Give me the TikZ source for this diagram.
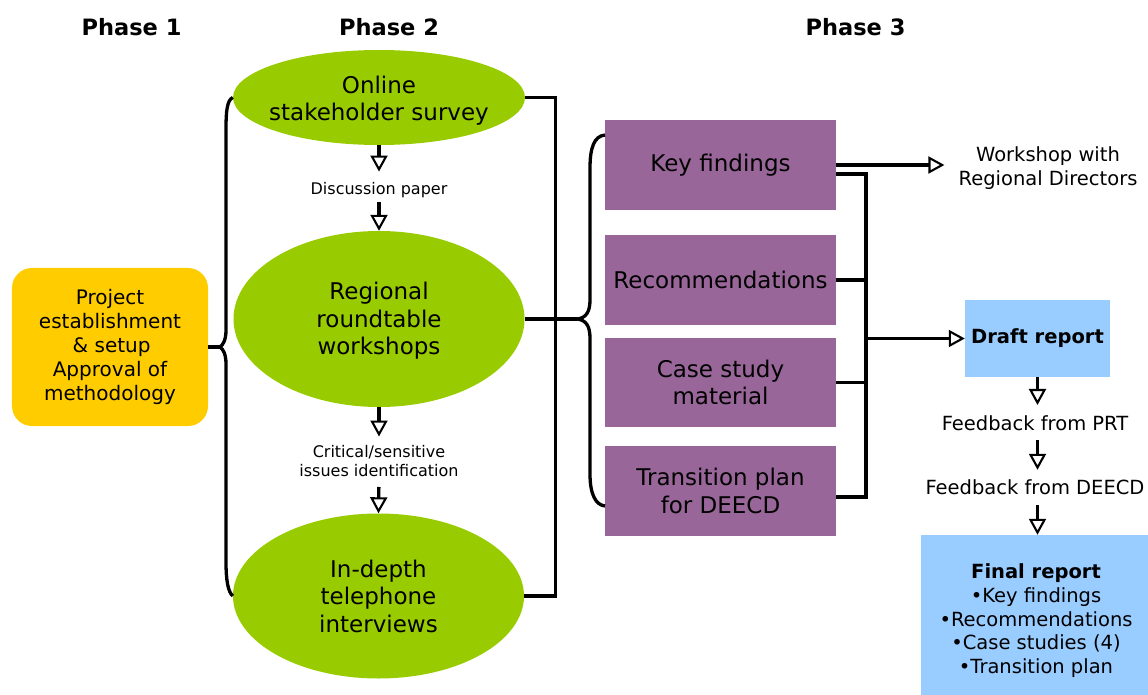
\documentclass[tikz,border=0pt]{standalone}
\usepackage{fontspec}
\setmainfont{DejaVu Sans}
\usetikzlibrary{arrows.meta,shapes.geometric}
\definecolor{leaf}{HTML}{99CC00}
\definecolor{amber}{HTML}{FFCC00}
\definecolor{plum}{HTML}{996699}
\definecolor{sky}{HTML}{99CCFF}

\begin{document}
\begin{tikzpicture}[x=1bp,y=-1bp,
  wire/.style={line width=3.3bp, black},
  flow/.style={wire, -{Triangle[open,length=16bp,width=17bp,line width=2.1bp]}},
  heading/.style={font=\bfseries\fontsize{22.5bp}{26bp}\selectfont, inner sep=0pt, anchor=base},
  bigtext/.style={font=\fontsize{23bp}{27.5bp}\selectfont, align=center, inner sep=0pt},
  midtext/.style={font=\fontsize{19.5bp}{23.8bp}\selectfont, align=center, inner sep=0pt},
  smalltext/.style={font=\fontsize{16bp}{19bp}\selectfont, align=center, inner sep=0pt},
  blob/.style={ellipse, fill=leaf, draw=none, inner sep=0pt},
  output/.style={rectangle, fill=plum, draw=none, inner sep=0pt, align=center,
    minimum width=231bp, minimum height=90bp, font=\fontsize{23bp}{27.5bp}\selectfont},
  report/.style={rectangle, fill=sky, draw=none, inner sep=0pt, align=center}
]
\useasboundingbox (0,0) rectangle (1148,695);

% phase headings
\node[heading] (ph1) at (131.5,36) {Phase 1};
\node[heading] (ph2) at (389,36) {Phase 2};
\node[heading] (ph3) at (855.5,36) {Phase 3};

% phase 1
\node[rectangle, rounded corners=20bp, fill=amber, inner sep=0pt, align=center,
  minimum width=196bp, minimum height=158bp,
  font=\fontsize{20bp}{24bp}\selectfont] (setup) at (110,347)
  {Project\\establishment\\\,\& setup\\Approval of\\methodology};

% phase 2
\node[blob, minimum width=292bp, minimum height=95bp] (survey) at (379,97.5) {};
\node[bigtext] (survey-t) at (379,100.5) {Online\\stakeholder survey};
\node[blob, minimum width=291bp, minimum height=176bp] (roundtable) at (379,319) {};
\node[bigtext] (roundtable-t) at (379,321) {Regional\\roundtable\\workshops};
\node[blob, minimum width=291bp, minimum height=165bp] (interviews) at (378.5,596) {};
\node[bigtext] (interviews-t) at (378.5,596) {In-depth\\telephone\\interviews};

\node[smalltext, anchor=base] (paper) at (379,194.3) {Discussion paper};
\node[smalltext] (issues) at (379,461.4) {Critical/sensitive\\issues identification};

% phase 3
\node[output] (kf) at (720.5,165) {\raisebox{-2bp}{Key findings}};
\node[output] (rec) at (720.5,280) {Recommendations};
\node[output, minimum height=89bp] (case) at (720.5,382.5) {Case study\\material};
\node[output] (trans) at (720.5,491) {Transition plan\\for DEECD};

\node[midtext] (rd) at (1048,167.9) {Workshop with\\Regional Directors};
\node[report, minimum width=145bp, minimum height=77bp,
  font=\bfseries\fontsize{19.5bp}{23.8bp}\selectfont] (draft) at (1037.5,338.5) {\raisebox{-2bp}{Draft report}};
\node[midtext, anchor=base] (prt) at (1035,430) {Feedback from PRT};
\node[midtext, anchor=base] (deecd) at (1035,494.3) {Feedback from DEECD};
\node[report, minimum width=227bp, minimum height=160bp] (final) at (1034.5,615) {};
\node[midtext] (final-t) at (1036,620.7)
  {\textbf{Final report}\\•Key findings\\•Recommendations\\•Case studies (4)\\•Transition plan};

% brace gathering phase 2 into phase 1
\coordinate (lbtip) at (220,347);
\draw[wire] (setup.east) -- (lbtip);
\draw[wire] (survey.west) .. controls (227,100) and (226,112) .. (226,128)
  -- (226,330) .. controls (226,340) and (223,345) .. (lbtip)
  .. controls (223,349) and (226,354) .. (226,364)
  -- (226,562) .. controls (226,580) and (228,592) .. (interviews.west);

% phase 2 flow
\draw[flow, shorten >=10.4bp] (survey.south) -- (paper.north);
\draw[flow, shorten <=4bp] (paper.south) -- (roundtable.north);
\draw[flow, shorten >=9bp] (roundtable.south) -- (issues.north);
\draw[flow, shorten <=9.7bp] (issues.south) -- (interviews.north);

% bracket from phase 2 into phase 3
\coordinate (rbtip) at (577,319);
\coordinate (rbtop) at (605,135);
\coordinate (rbbot) at (605,506);
\draw[wire] (survey.east) -- ++(30,0) |- (interviews.east);
\draw[wire] (roundtable.east) -- (rbtip);
\draw[wire] (rbtop) .. controls (594,136) and (590,148) .. (590,168)
  -- (590,300) .. controls (590,312) and (586,318) .. (rbtip)
  .. controls (586,320) and (590,326) .. (590,338)
  -- (590,474) .. controls (590,495) and (596,505) .. (rbbot);

% phase 3 outputs
\coordinate (busbot) at (866,497);
\draw[flow, shorten >=14bp] (kf.east) -- (kf.east -| rd.west);
\draw[wire] ([yshift=-9bp]kf.east) -| (busbot) -- (busbot -| trans.east);
\draw[wire] (rec.east) -- (rec.east -| busbot);
\draw[wire] (case.east) -- (case.east -| busbot);
\draw[flow] (draft.west -| busbot) -- (draft.west);

% review chain
\draw[flow, shorten >=10bp] (draft.south) -- (draft.south |- prt.north);
\draw[flow, shorten <=10bp, shorten >=9.5bp] (prt.south -| draft.south) -- (deecd.north -| draft.south);
\draw[flow, shorten <=10.7bp] (deecd.south -| draft.south) -- (final.north -| draft.south);
\end{tikzpicture}
\end{document}
